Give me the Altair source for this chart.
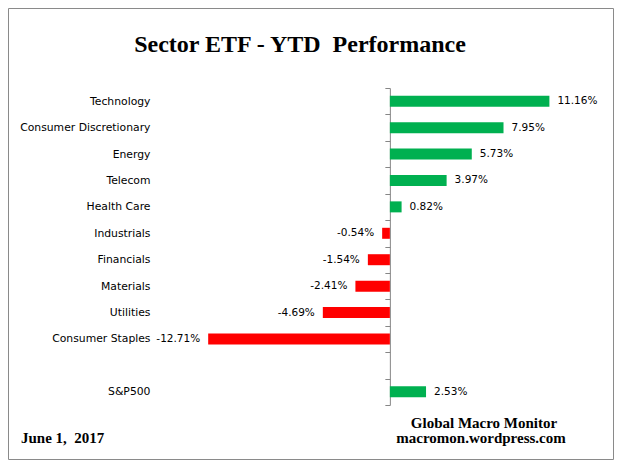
import altair as alt
import pandas as pd

# ---- data ----
categories = ["Technology", "Consumer Discretionary", "Energy", "Telecom", "Health Care",
              "Industrials", "Financials", "Materials", "Utilities", "Consumer Staples",
              " ", "S&P500"]
sectors = ["Technology", "Consumer Discretionary", "Energy", "Telecom", "Health Care",
           "Industrials", "Financials", "Materials", "Utilities", "Consumer Staples", "S&P500"]
ytd = [11.16, 7.95, 5.73, 3.97, 0.82, -0.54, -1.54, -2.41, -4.69, -12.71, 2.53]

title_text = "Sector ETF - YTD\u00a0 Performance"
date_text = "June 1,\u00a0 2017"
source_line1 = "Global Macro Monitor"
source_line2 = "macromon.wordpress.com"

df = pd.DataFrame({"sector": sectors, "ytd": ytd})

W, H = 436, 317
PAD_L, PAD_T = 146, 80
TOTAL_W, TOTAL_H = 606, 452
x_domain = [-16.5, 14]
zero_px = W * (0 - x_domain[0]) / (x_domain[1] - x_domain[0])

GREEN = "#00B050"
RED = "#FF0000"
GREY = "#868686"
SANS = "DejaVu Sans"
SERIF = "Liberation Serif"

x_enc = alt.X("ytd:Q", scale=alt.Scale(domain=x_domain, nice=False, zero=False), axis=None)
y_enc = alt.Y(
    "sector:N",
    scale=alt.Scale(domain=categories, paddingInner=0, paddingOuter=0),
    sort=categories,
    axis=alt.Axis(
        title=None, orient="left", offset=-zero_px,
        domainColor=GREY, tickColor=GREY, tickSize=5, tickBand="extent",
        labelPadding=zero_px - 1, labelFont=SANS, labelFontSize=10.8,
        labelColor="black", labelLimit=300, grid=False,
    ),
)

base = alt.Chart(df).transform_calculate(
    label="(datum.ytd < 0 ? '-' : '') + format(abs(datum.ytd), '.2f') + '%'"
)

bars = base.mark_bar(size=11).encode(
    x=x_enc,
    x2=alt.datum(0),
    y=y_enc,
    color=alt.condition("datum.ytd >= 0", alt.value(GREEN), alt.value(RED)),
)

pos_text = base.transform_filter("datum.ytd >= 0").mark_text(
    align="left", baseline="middle", dx=8, font=SANS, fontSize=10.5, color="black"
).encode(x=x_enc, y=y_enc, text="label:N")

neg_text = base.transform_filter("datum.ytd < 0").mark_text(
    align="right", baseline="middle", dx=-8, font=SANS, fontSize=10.5, color="black"
).encode(x=x_enc, y=y_enc, text="label:N")


def note(text, x, y, size, align="center"):
    return alt.Chart(pd.DataFrame({"t": [text]})).mark_text(
        align=align, baseline="alphabetic", font=SERIF, fontWeight="bold",
        fontSize=size, color="black"
    ).encode(x=alt.value(x), y=alt.value(y), text="t:N")


title = note(title_text, 146, -36, 24)
date = note(date_text, -133, 355, 15, align="left")
src1 = note(source_line1, 330, 340, 15)
src2 = note(source_line2, 327, 355, 15)

frame = alt.Chart(pd.DataFrame({"t": [0]})).mark_rect(
    fill=None, stroke="#8a8a8a", strokeWidth=1
).encode(
    x=alt.value(-PAD_L + 0.5), x2=alt.value(TOTAL_W - PAD_L - 0.5),
    y=alt.value(-PAD_T + 0.5), y2=alt.value(TOTAL_H - PAD_T - 0.5),
)

chart = alt.layer(bars, pos_text, neg_text, title, date, src1, src2, frame).properties(
    width=W, height=H,
    autosize=alt.AutoSizeParams(type="none"),
    padding={"left": PAD_L, "top": PAD_T, "right": TOTAL_W - PAD_L - W, "bottom": TOTAL_H - PAD_T - H},
    background="white",
).configure_view(stroke=None)

chart.save("out.html", embed_options={"renderer": "svg", "actions": False})
